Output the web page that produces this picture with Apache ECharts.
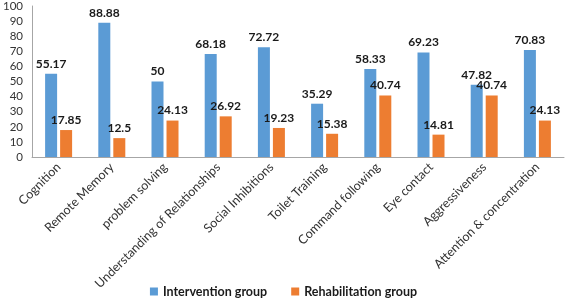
<!DOCTYPE html>
<html>
<head>
<meta charset="utf-8">
<script src="https://cdn.jsdelivr.net/npm/echarts@6/dist/echarts.min.js"></script>
<style>
  html, body { margin: 0; padding: 0; background: #fff; }
  #chart { width: 567px; height: 303px; }
</style>
</head>
<body>
<div id="chart"></div>
<script>
// data
const categories = [
  'Cognition', 'Remote Memory', 'problem solving', 'Understanding of Relationships',
  'Social Inhibitions', 'Toilet Training', 'Command following', 'Eye contact',
  'Aggressiveness', 'Attention & concentration'
];
const intervention = [55.17, 88.88, 50, 68.18, 72.72, 35.29, 58.33, 69.23, 47.82, 70.83];
const rehabilitation = [17.85, 12.5, 24.13, 26.92, 19.23, 15.38, 40.74, 14.81, 40.74, 24.13];
const yTicks = [0, 10, 20, 30, 40, 50, 60, 70, 80, 90, 100];

const font = 'Lato, "Open Sans", sans-serif';

const chart = echarts.init(document.getElementById('chart'));

const labelStyle = {
  show: true,
  position: 'top',
  distance: 4,
  fontFamily: font,
  fontWeight: 'bold',
  fontSize: 12,
  color: '#1a1a1a'
};

chart.setOption({
  animation: false,
  grid: { left: 29, right: 3, top: 5, bottom: 146, containLabel: false },
  legend: {
    bottom: 0,
    left: 'center',
    itemWidth: 8,
    itemHeight: 8,
    itemGap: 24,
    icon: 'rect',
    textStyle: { fontFamily: font, fontWeight: 'bold', fontSize: 12.5, color: '#1a1a1a' },
    data: ['Intervention group', 'Rehabilitation group']
  },
  xAxis: {
    type: 'category',
    data: categories,
    axisLine: { lineStyle: { color: '#a6a6a6' } },
    axisTick: { show: false },
    axisLabel: {
      rotate: 45,
      interval: 0,
      margin: 8,
      fontFamily: font,
      fontSize: 12.5,
      color: '#333'
    }
  },
  yAxis: {
    type: 'value',
    min: yTicks[0],
    max: yTicks[yTicks.length - 1],
    interval: 10,
    axisLine: { show: true, lineStyle: { color: '#a6a6a6' } },
    axisTick: { show: false },
    splitLine: { show: false },
    axisLabel: { fontFamily: font, fontSize: 11.5, color: '#333', margin: 9 }
  },
  series: [
    {
      name: 'Intervention group',
      type: 'bar',
      data: intervention,
      barWidth: 12,
      barGap: '25%',
      itemStyle: { color: '#5b9bd5' },
      label: labelStyle
    },
    {
      name: 'Rehabilitation group',
      type: 'bar',
      data: rehabilitation,
      barWidth: 12,
      itemStyle: { color: '#ed7d31' },
      label: labelStyle
    }
  ]
});
</script>
</body>
</html>
